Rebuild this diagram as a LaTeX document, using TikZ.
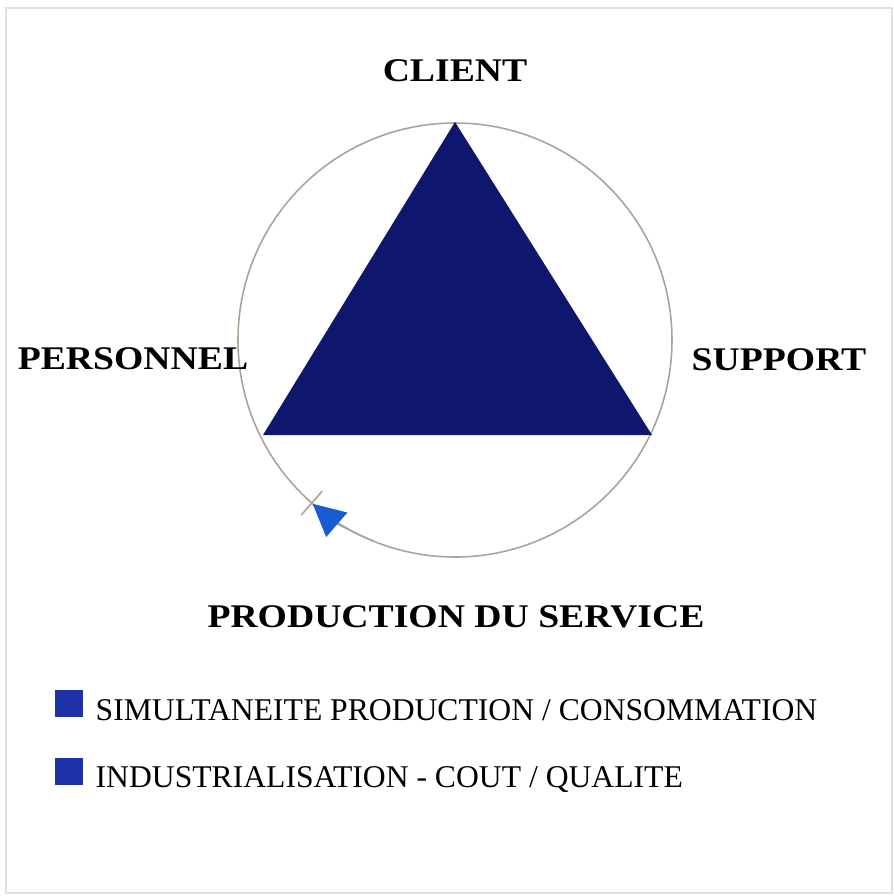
\documentclass[tikz,border=0pt]{standalone}
\usepackage{fontspec}
\setmainfont{Liberation Serif}
\newfontfamily\headfont{Liberation Serif}[FakeStretch=1.14]
\usepackage{tikz}
\usetikzlibrary{arrows.meta,positioning}

\definecolor{navy}{RGB}{14,22,110}
\definecolor{keyblue}{RGB}{30,50,168}
\definecolor{arrowblue}{RGB}{24,92,212}
\definecolor{rimgray}{RGB}{168,164,150}
\definecolor{framegray}{RGB}{225,225,220}

\begin{document}
\begin{tikzpicture}[
    x=0.01cm, y=-0.01cm,
    title/.style={font=\headfont\bfseries\fontsize{9.4}{11}\selectfont, inner sep=0pt, anchor=base},
    entry/.style={font=\fontsize{9}{11}\selectfont, inner sep=0pt, anchor=base west},
    swatch/.style={rectangle, fill=keyblue, minimum width=0.28cm, minimum height=0.27cm, inner sep=0pt},
    rim/.style={draw=rimgray, line width=0.45pt}
]
\useasboundingbox (0,0) rectangle (894,896);
\draw[framegray, line width=0.4pt] (6,8) rectangle (892,893);

% Circle
\coordinate (o) at (455,340);
\draw[rim] (o) circle[radius=217];

% Triangle
\coordinate (top) at (455,122);
\coordinate (left) at (263,435);
\coordinate (right) at (652,435);
\fill[navy] (top) -- (left) -- (right) -- cycle;

% Cycle mark and arrow
\draw[rim] (o) ++(131.3:201) -- ++(131.3:32);
\draw[rim, -{Triangle[length=0.32cm, width=0.32cm, color=arrowblue]}] (o) ++(112:217) arc[start angle=112, end angle=131, radius=217];

% Labels
\node[title] (client) at (455,81) {CLIENT};
\node[title] (personnel) at (133,369) {PERSONNEL};
\node[title] (support) at (779,370) {SUPPORT};
\node[title] (production) at (456,627) {PRODUCTION DU SERVICE};

% Legend
\node[swatch] (key1) at (69,703) {};
\node[swatch] (key2) at (69,771) {};
\node[entry] (simul) at (95,720) {SIMULTANEITE PRODUCTION / CONSOMMATION};
\node[entry] (indus) at (95,787) {INDUSTRIALISATION - COUT / QUALITE};

\end{tikzpicture}
\end{document}
